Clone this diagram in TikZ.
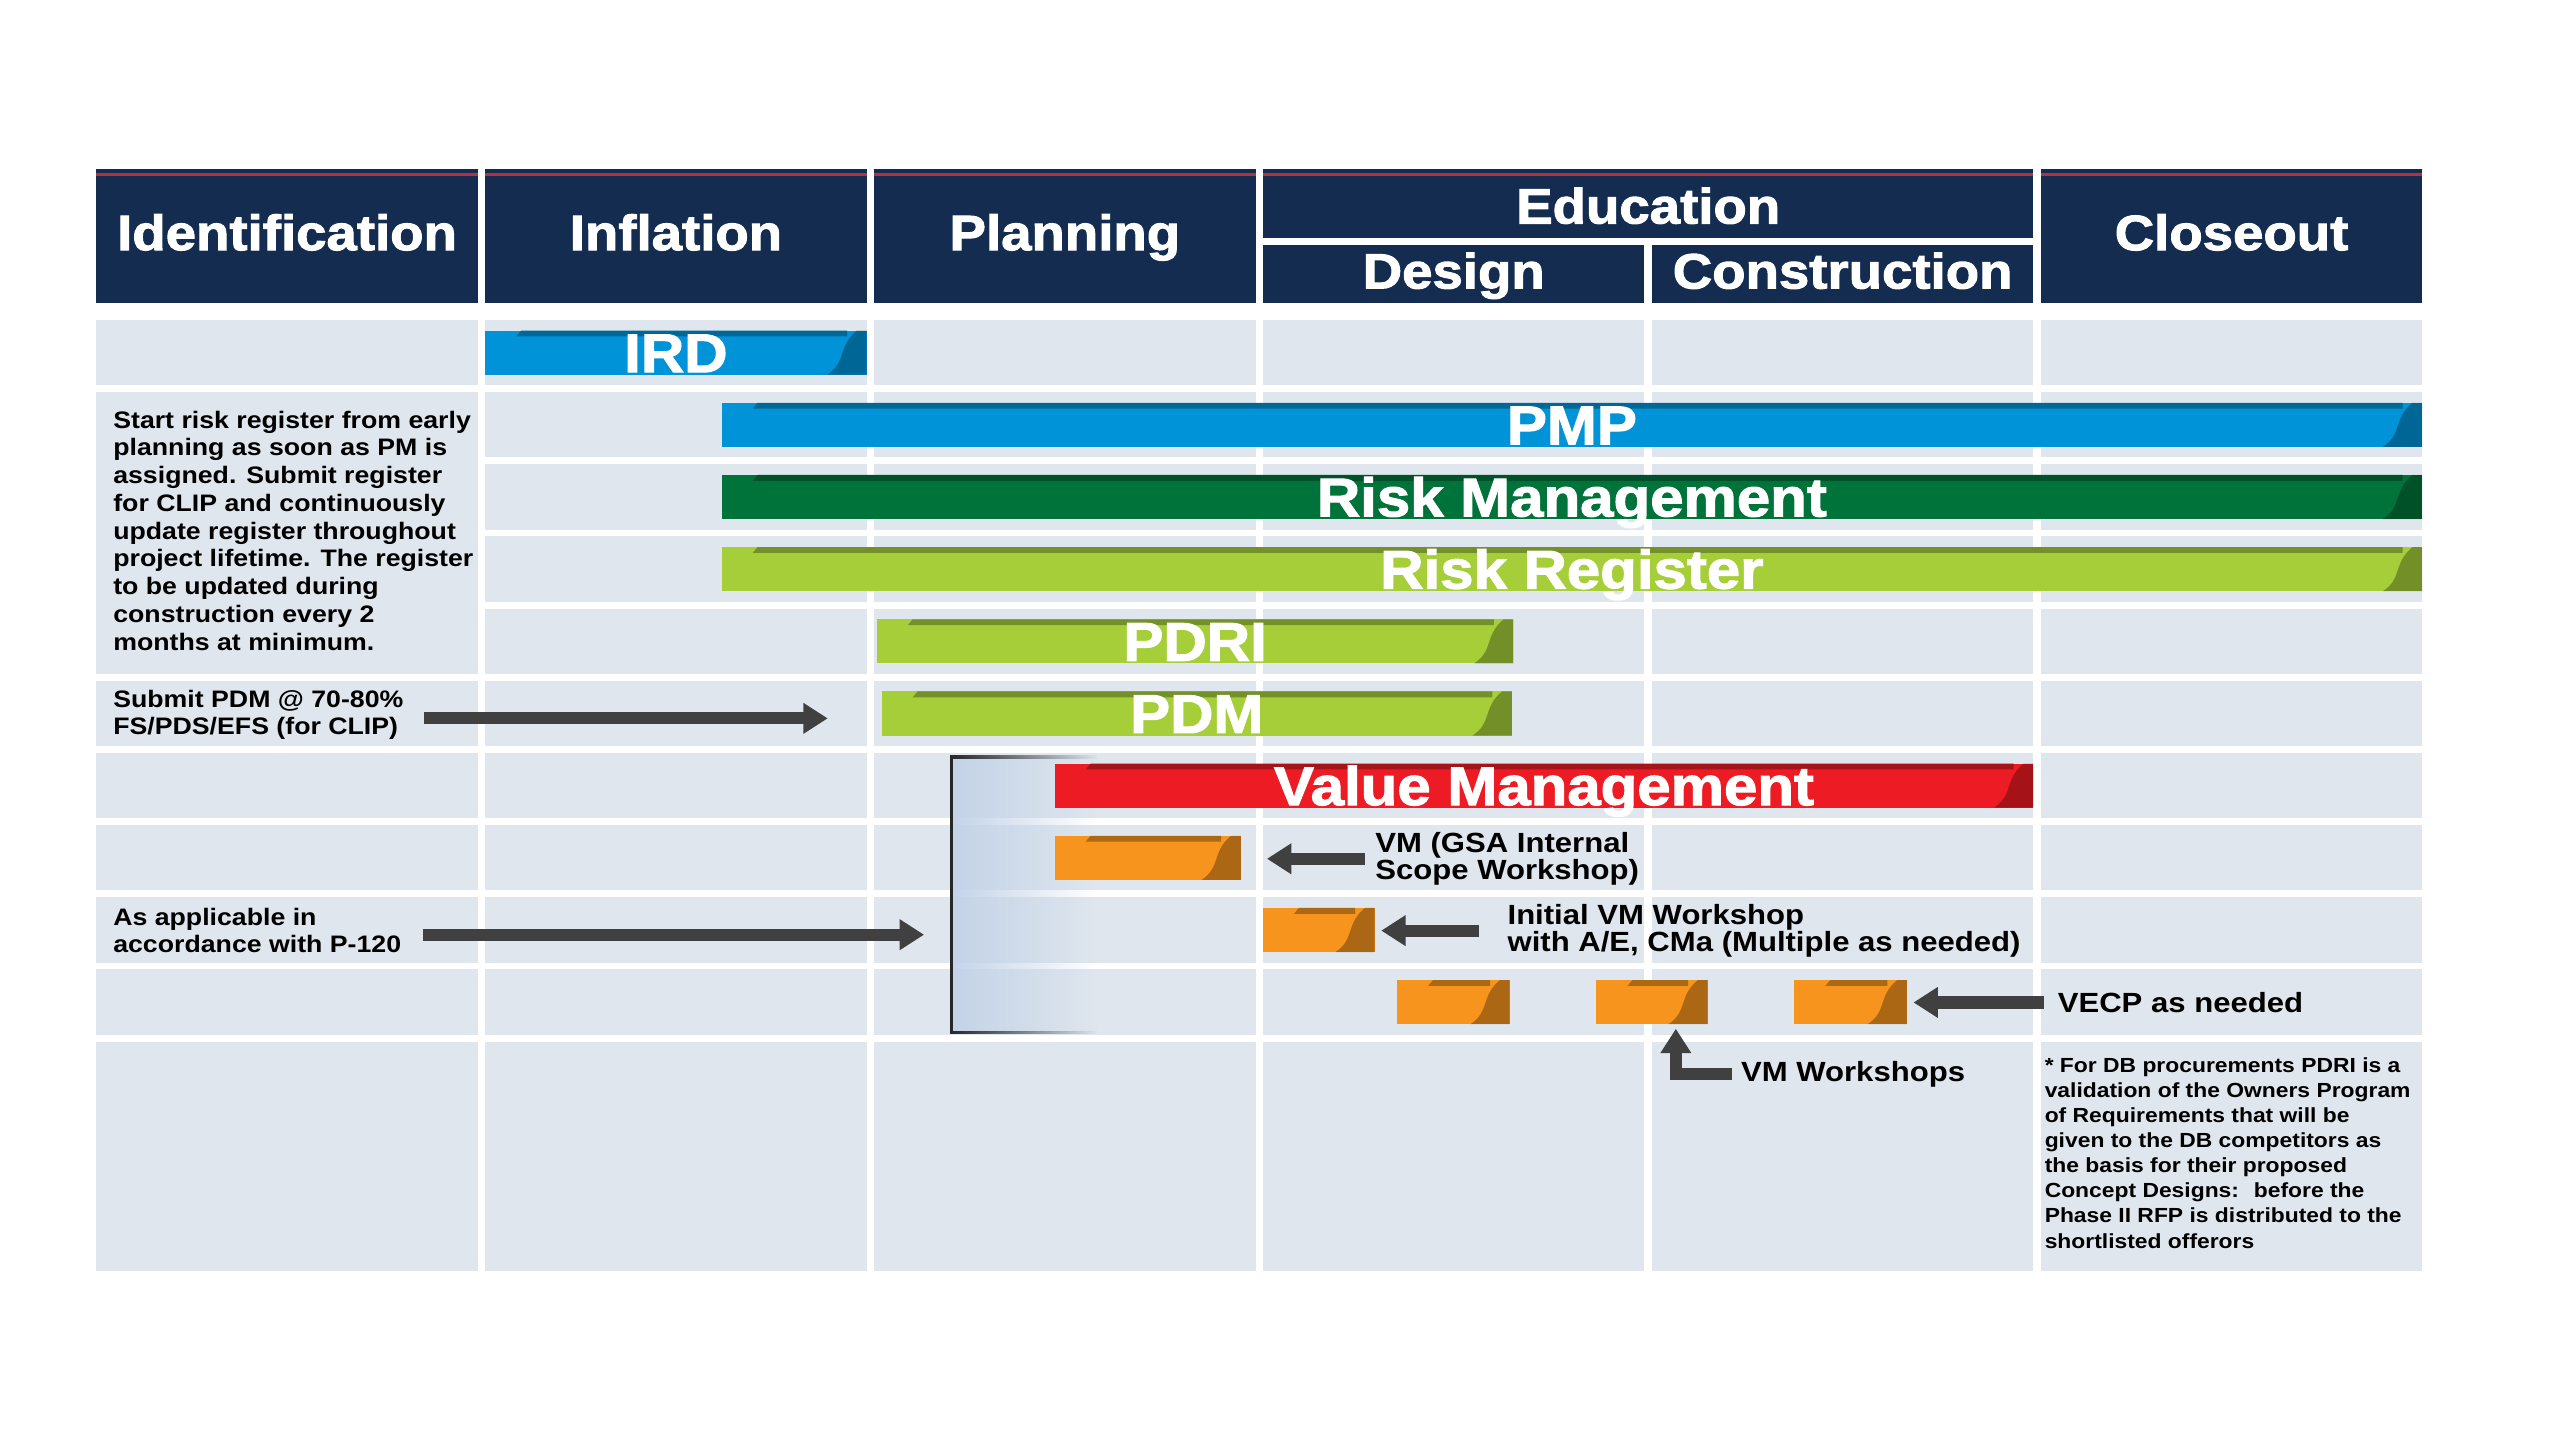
\documentclass[tikz,border=0pt]{standalone}
\usepackage{fontspec}
\setmainfont{Liberation Sans}[FakeStretch=1.12]
\newfontfamily\heavyfont{Liberation Sans}[FakeStretch=1.1, BoldFeatures={FakeBold=2}]
\usetikzlibrary{positioning,fit,fadings,arrows.meta}

\definecolor{navy}{HTML}{132C50}
\definecolor{stripered}{HTML}{B3323E}
\definecolor{cellgray}{HTML}{DFE6ED}
\definecolor{pmpblue}{HTML}{0093D8}
\definecolor{riskgreen}{HTML}{00733A}
\definecolor{registergreen}{HTML}{A6CE39}
\definecolor{vmred}{HTML}{ED1C24}
\definecolor{vmorange}{HTML}{F7941D}
\definecolor{arrowgray}{HTML}{404040}
\definecolor{bracketblue}{HTML}{C3D3E8}

\tikzfading[name=bracketfade, left color=transparent!0, right color=transparent!100]

\tikzset{
  barcolor/.code={\colorlet{barbase}{#1}},
  ganttbar/.style={inner sep=0pt, outer sep=0pt, fill=barbase,
    path picture={
      \fill[barbase!70!black] ([xshift=11pt]path picture bounding box.north west) -- ([xshift=-6pt]path picture bounding box.north east) -- ([xshift=-6pt,yshift=-1.8pt]path picture bounding box.north east) -- ([xshift=9.5pt,yshift=-1.8pt]path picture bounding box.north west) -- cycle;
      \fill[black, opacity=.3] ([xshift=-12pt]path picture bounding box.south east) .. controls ([xshift=-6pt,yshift=4pt]path picture bounding box.south east) and ([xshift=-9pt,yshift=-5pt]path picture bounding box.north east) .. ([xshift=-3pt]path picture bounding box.north east) -- (path picture bounding box.north east) -- (path picture bounding box.south east) -- cycle;
    }},
  barlabel/.style={anchor=base, text=white, inner sep=0pt, font=\heavyfont\bfseries\fontsize{16.7}{18}\selectfont},
  headtext/.style={anchor=base, text=white, inner sep=0pt, font=\heavyfont\bfseries\fontsize{15.2}{18}\selectfont},
  notetext/.style={anchor=north west, align=left, inner sep=0pt, font=\fontsize{7.3}{8.5}\selectfont\bfseries},
  smallnote/.style={anchor=north west, align=left, inner sep=0pt, font=\fontsize{6.25}{7.7}\selectfont\bfseries},
  calltext/.style={anchor=west, align=left, inner sep=0pt, font=\fontsize{8.5}{8.4}\selectfont\bfseries},
  blockarrow/.style={draw=arrowgray, line width=3.7pt, -{Triangle[width=9pt,length=7.5pt]}},
}

\begin{document}
\begin{tikzpicture}[x=0.5pt, y=-0.5pt]
  \useasboundingbox (0,0) rectangle (1568,882.6);

  % grid
  \foreach \c in {0,...,5}{
    \foreach \r in {0,...,9}
      \fill[cellgray] ({59+238.2*\c},{196+44.2*\r}) rectangle ++(233.6,40);
    \fill[cellgray] ({59+238.2*\c},638) rectangle ++(233.6,140.2);
  }
  \fill[cellgray] (59,240.2) rectangle (292.6,412.8);

  % header
  \foreach \c/\t in {0/Identification,1/Inflation,2/Planning,5/Closeout}{
    \fill[navy] ({59+238.2*\c},103.8) rectangle ++(233.6,81.6);
    \fill[stripered] ({59+238.2*\c},106) rectangle ++(233.6,2);
    \node[headtext] (head\c) at ({175.8+238.2*\c},153.2) {\t};
  }
  \fill[navy] (773.6,103.8) rectangle (1245.4,146);
  \fill[stripered] (773.6,106) rectangle (1245.4,108);
  \fill[navy] (773.6,150) rectangle (1007.2,185.4);
  \fill[navy] (1011.8,150) rectangle (1245.4,185.4);
  \node[headtext] (education) at (1009.5,136.9) {Education};
  \node[headtext] (design) at (890.4,176.7) {Design};
  \node[headtext] (construction) at (1128.6,176.7) {Construction};

  % value management bracket
  \fill[bracketblue, path fading=bracketfade] (583,463.7) rectangle (672,632.2);
  \draw[black!85, line width=1pt, path fading=bracketfade] (672,463.7) -- (583,463.7) -- (583,632.2) -- (672,632.2);
  \coordinate (vmbracket) at (583,547.9);

  % bars
  \node[barcolor=pmpblue, ganttbar, fit={(297.2,202.5) (530.8,229.5)}] (ird) {};
  \node[barcolor=pmpblue, ganttbar, fit={(442,246.7) (1483.6,273.7)}] (pmp) {};
  \node[barcolor=riskgreen, ganttbar, fit={(442,290.9) (1483.6,317.9)}] (riskmgmt) {};
  \node[barcolor=registergreen, ganttbar, fit={(442,335.1) (1483.6,362.1)}] (register) {};
  \node[barcolor=registergreen, ganttbar, fit={(537,379.3) (927,406.3)}] (pdri) {};
  \node[barcolor=registergreen, ganttbar, fit={(540,423.5) (926,450.5)}] (pdm) {};
  \node[barcolor=vmred, ganttbar, fit={(646,467.7) (1245.4,494.7)}] (vm) {};
  \node[barcolor=vmorange, ganttbar, fit={(646,511.9) (760,538.9)}] (gsa) {};
  \node[barcolor=vmorange, ganttbar, fit={(773.6,556.1) (842,583.1)}] (initvm) {};
  \node[barcolor=vmorange, ganttbar, fit={(855.7,600.3) (924.7,627.3)}] (vecpa) {};
  \node[barcolor=vmorange, ganttbar, fit={(977.8,600.3) (1045.9,627.3)}] (vecpb) {};
  \node[barcolor=vmorange, ganttbar, fit={(1099,600.3) (1168,627.3)}] (vecpc) {};

  \node[barlabel] (irdlbl) at ([yshift=0.8pt]ird.south) {IRD};
  \node[barlabel] (pmplbl) at ([yshift=0.8pt]pmp.south) {PMP};
  \node[barlabel] (riskmgmtlbl) at ([yshift=0.8pt]riskmgmt.south) {Risk Management};
  \node[barlabel] (registerlbl) at ([yshift=0.8pt]register.south) {Risk Register};
  \node[barlabel] (pdrilbl) at ([yshift=0.8pt]pdri.south) {PDRI};
  \node[barlabel] (pdmlbl) at ([yshift=0.8pt]pdm.south) {PDM};
  \node[barlabel] (vmlbl) at ([yshift=0.8pt]vm.south) {Value Management};

  % notes
  \node[notetext] (risknote) at (69,251.3) {Start risk register from early\\planning as soon as PM is\\assigned. Submit register\\for CLIP and continuously\\update register throughout\\project lifetime. The register\\to be updated during\\construction every 2\\months at minimum.};
  \node[notetext] (pdmnote) at (69,422.1) {Submit PDM @ 70-80\%\\FS/PDS/EFS (for CLIP)};
  \node[notetext] (p120note) at (69,555.7) {As applicable in\\accordance with P-120};
  \node[smallnote] (dbnote) at (1252,647.2) {* For DB procurements PDRI is a\\validation of the Owners Program\\of Requirements that will be\\given to the DB competitors as\\the basis for their proposed\\Concept Designs:~ before the\\Phase II RFP is distributed to the\\shortlisted offerors};

  \node[calltext] (gsalbl) at (842,526) {VM (GSA Internal\\Scope Workshop)};
  \node[calltext] (initlbl) at (923,570) {Initial VM Workshop\\with A/E, CMa (Multiple as needed)};
  \node[calltext] (vecplbl) at (1260,614) {VECP as needed};
  \node[calltext] (wslbl) at (1066,658) {VM Workshops};

  % arrows
  \coordinate (pdmtail) at (260,440);
  \coordinate (p120tail) at (259,572.5);
  \draw[blockarrow, shorten >=16.5pt] (pdmtail) -- (pdmtail -| pdm.west);
  \draw[blockarrow, shorten >=8.5pt] (p120tail) -- (p120tail -| vmbracket);
  \draw[blockarrow, shorten <=3pt, shorten >=8pt] (gsalbl.west) -- (gsalbl.west -| gsa.east);
  \draw[blockarrow, shorten <=8.5pt, shorten >=2pt] (initlbl.west) -- (initlbl.west -| initvm.east);
  \draw[blockarrow, shorten <=4pt, shorten >=2pt] (vecplbl.west) -- (vecplbl.west -| vecpc.east);
  \draw[blockarrow, shorten <=2.5pt, shorten >=1.4pt] (wslbl.west) -| ([xshift=7.3pt]vecpb.south);
\end{tikzpicture}
\end{document}
